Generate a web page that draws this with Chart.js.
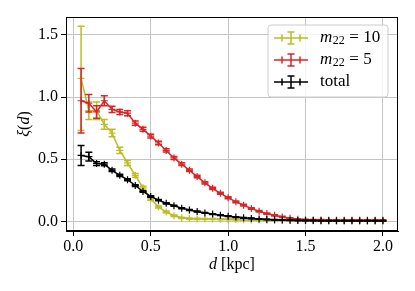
<!DOCTYPE html>
<html><head><meta charset="utf-8">
<script src="https://cdn.jsdelivr.net/npm/chart.js@4/dist/chart.umd.min.js"></script>
<style>html,body{margin:0;padding:0;background:#fff;}#wrap{width:415px;height:291px;}</style>
</head><body><div id="wrap"><canvas id="c" width="415" height="291"></canvas></div>
<script>
// ---- data ----
const distances = [0.05,0.10,0.15,0.20,0.25,0.30,0.35,0.40,0.45,0.50,0.55,0.60,0.65,0.70,0.75,0.80,0.85,0.90,0.95,1.00,
                   1.05,1.10,1.15,1.20,1.25,1.30,1.35,1.40,1.45,1.50,1.55,1.60,1.65,1.70,1.75,1.80,1.85,1.90,1.95,2.00];
const xiM10 = [1.15,0.89,0.89,0.78,0.71,0.57,0.47,0.37,0.27,0.18,0.115,0.075,0.045,0.028,0.022,0.020,0.019,0.018,0.017,0.016,
               0.014,0.012,0.011,0.010,0.009,0.008,0.007,0.007,0.006,0.006,0.005,0.005,0.005,0.004,0.004,0.004,0.004,0.003,0.003,0.003];
const errM10 = [0.42,0.07,0.07,0.04,0.03,0.025,0.02,0.015,0.012,0.01,0.008,0.007,0.006,0.005,0.005,0.005,0.004,0.004,0.004,0.004,
                0.004,0.003,0.003,0.003,0.003,0.003,0.003,0.003,0.003,0.003,0.003,0.003,0.003,0.003,0.003,0.003,0.003,0.003,0.003,0.003];
const xiM5 = [0.97,0.95,0.88,0.97,0.90,0.88,0.87,0.79,0.74,0.685,0.63,0.57,0.51,0.46,0.41,0.36,0.31,0.265,0.225,0.19,
              0.157,0.13,0.103,0.08,0.062,0.048,0.035,0.024,0.017,0.013,0.011,0.010,0.009,0.009,0.008,0.008,0.008,0.008,0.008,0.008];
const errM5 = [0.26,0.07,0.05,0.04,0.025,0.02,0.02,0.018,0.016,0.015,0.014,0.013,0.012,0.011,0.010,0.010,0.009,0.009,0.008,0.008,
               0.007,0.007,0.006,0.006,0.005,0.005,0.005,0.005,0.004,0.004,0.004,0.004,0.004,0.004,0.004,0.004,0.004,0.004,0.004,0.004];
const xiTotal = [0.53,0.52,0.465,0.46,0.41,0.37,0.335,0.288,0.24,0.20,0.17,0.145,0.125,0.106,0.091,0.078,0.067,0.058,0.049,0.041,
                 0.034,0.028,0.023,0.018,0.015,0.012,0.010,0.008,0.007,0.006,0.006,0.005,0.005,0.005,0.005,0.004,0.004,0.004,0.004,0.004];
const errTotal = [0.08,0.035,0.015,0.012,0.01,0.009,0.008,0.007,0.006,0.006,0.005,0.005,0.004,0.004,0.004,0.004,0.003,0.003,0.003,0.003,
                  0.003,0.003,0.003,0.002,0.002,0.002,0.002,0.002,0.002,0.002,0.002,0.002,0.002,0.002,0.002,0.002,0.002,0.002,0.002,0.002];
const xTicks = [0.0,0.5,1.0,1.5,2.0];
const yTicks = [0.0,0.5,1.0,1.5];
const seriesNames = ['m22 = 10','m22 = 5','total'];
const seriesColors = ['#bcbd22','#d62728','#000000'];

const FONT = "'Liberation Serif', 'DejaVu Serif', serif";
const errs = [errM10, errM5, errTotal];
const vals = [xiM10, xiM5, xiTotal];

function pts(v){ return distances.map((d,i)=>({x:d,y:v[i]})); }

const errorBars = {
  id:'errorBars',
  afterDatasetDraw(chart, args){
    const i = args.index, meta = args.meta;
    const ys = chart.scales.y, ctx = chart.ctx;
    ctx.save();
    ctx.strokeStyle = seriesColors[i];
    ctx.lineWidth = 1.5;
    meta.data.forEach((p, k)=>{
      const v = vals[i][k], e = errs[i][k];
      const y1 = ys.getPixelForValue(v + e), y2 = ys.getPixelForValue(v - e);
      ctx.beginPath();
      ctx.moveTo(p.x, y1); ctx.lineTo(p.x, y2);
      ctx.moveTo(p.x-3.5, y1); ctx.lineTo(p.x+3.5, y1);
      ctx.moveTo(p.x-3.5, y2); ctx.lineTo(p.x+3.5, y2);
      ctx.stroke();
    });
    ctx.restore();
  }
};

function drawRuns(ctx, runs, x, y, align){
  let total = 0;
  runs.forEach(r=>{ ctx.font = r.font; r.w = ctx.measureText(r.t).width + (r.gap||0); total += r.w; });
  let cx = align==='center' ? x - total/2 : x;
  runs.forEach(r=>{ ctx.font = r.font; ctx.fillText(r.t, cx, y + (r.dy||0)); cx += r.w; });
}

const decor = {
  id:'decor',
  afterDraw(chart){
    const ctx = chart.ctx, a = chart.chartArea;
    ctx.save();
    // frame
    ctx.strokeStyle = '#000'; ctx.lineWidth = 1;
    ctx.strokeRect(a.left+0.5, a.top+0.5, a.right-a.left-1, a.bottom-a.top-1);
    ctx.fillStyle = '#000';
    ctx.textBaseline = 'middle';
    const it = 'italic 16px ' + FONT, rm = '16px ' + FONT;
    // x title
    drawRuns(ctx, [{t:'d',font:it},{t:' [kpc]',font:rm}], (a.left+a.right)/2, 265, 'center');
    // y title
    ctx.save();
    ctx.translate(25, (a.top+a.bottom)/2);
    ctx.rotate(-Math.PI/2);
    drawRuns(ctx, [{t:'ξ',font:it},{t:'(',font:rm},{t:'d',font:it},{t:')',font:rm}], 0, 0, 'center');
    ctx.restore();
    // legend
    const bx = 268, by = 25, bw = 120, bh = 72, r = 3;
    ctx.beginPath();
    ctx.moveTo(bx+r,by); ctx.lineTo(bx+bw-r,by); ctx.quadraticCurveTo(bx+bw,by,bx+bw,by+r);
    ctx.lineTo(bx+bw,by+bh-r); ctx.quadraticCurveTo(bx+bw,by+bh,bx+bw-r,by+bh);
    ctx.lineTo(bx+r,by+bh); ctx.quadraticCurveTo(bx,by+bh,bx,by+bh-r);
    ctx.lineTo(bx,by+r); ctx.quadraticCurveTo(bx,by,bx+r,by); ctx.closePath();
    ctx.fillStyle = 'rgba(255,255,255,0.8)'; ctx.fill();
    ctx.strokeStyle = '#cccccc'; ctx.lineWidth = 1; ctx.stroke();
    const rows = [38, 60, 82];
    const lt = 'italic 17px ' + FONT, lr = '17px ' + FONT, ls = '12px ' + FONT;
    seriesNames.forEach((name, i)=>{
      const y = rows[i];
      ctx.strokeStyle = seriesColors[i]; ctx.lineWidth = 1.5;
      ctx.beginPath();
      ctx.moveTo(274, y); ctx.lineTo(308, y);
      ctx.moveTo(291, y-6); ctx.lineTo(291, y+6);
      ctx.moveTo(287.5, y-6); ctx.lineTo(294.5, y-6);
      ctx.moveTo(287.5, y+6); ctx.lineTo(294.5, y+6);
      [282, 300].forEach(mx=>{ ctx.moveTo(mx, y-3.5); ctx.lineTo(mx, y+3.5); });
      ctx.stroke();
      ctx.fillStyle = '#000';
      if (name === 'total') {
        drawRuns(ctx, [{t:'total',font:lr}], 320, y, 'left');
      } else {
        const num = name.split('= ')[1];
        drawRuns(ctx, [{t:'m',font:lt,gap:0.5},{t:'22',font:ls,dy:3,gap:4.5},{t:'=',font:lr,gap:4.5},{t:num,font:lr}], 320, y, 'left');
      }
    });
    ctx.restore();
  }
};

new Chart(document.getElementById('c'), {
  type:'line',
  data:{ datasets: vals.map((v,i)=>({
    label: seriesNames[i], data: pts(v),
    borderColor: seriesColors[i], backgroundColor: seriesColors[i],
    borderWidth: 1.5, pointStyle:'cross', pointRadius: 3.5, pointBorderWidth: 1.2,
    pointHoverRadius: 3.5, tension: 0, fill: false, order: 3 - i
  }))},
  options:{
    responsive:false, animation:false, devicePixelRatio:1,
    layout:{ padding:{ left:0, top:17, right:17, bottom:0 } },
    plugins:{ legend:{display:false}, tooltip:{enabled:false} },
    scales:{
      x:{ type:'linear', min:-0.0475, max:2.0975,
        afterBuildTicks: s => { s.ticks = xTicks.map(v=>({value:v})); },
        afterFit: s => { s.height = 60; },
        ticks:{ callback: v => Number(v).toFixed(1), font:{family:FONT, size:16}, color:'#000', padding:1, maxRotation:0, autoSkip:false },
        grid:{ color:'#c4c4c4', lineWidth:1, tickColor:'#000', tickLength:5, tickWidth:1 },
        border:{ color:'#000', width:1 }
      },
      y:{ type:'linear', min:-0.078, max:1.644,
        afterBuildTicks: s => { s.ticks = yTicks.map(v=>({value:v})); },
        afterFit: s => { s.width = 66; },
        ticks:{ callback: v => Number(v).toFixed(1), font:{family:FONT, size:16}, color:'#000', padding:3, autoSkip:false },
        grid:{ color:'#c4c4c4', lineWidth:1, tickColor:'#000', tickLength:5, tickWidth:1 },
        border:{ color:'#000', width:1 }
      }
    }
  },
  plugins:[errorBars, decor]
});
</script></body></html>
